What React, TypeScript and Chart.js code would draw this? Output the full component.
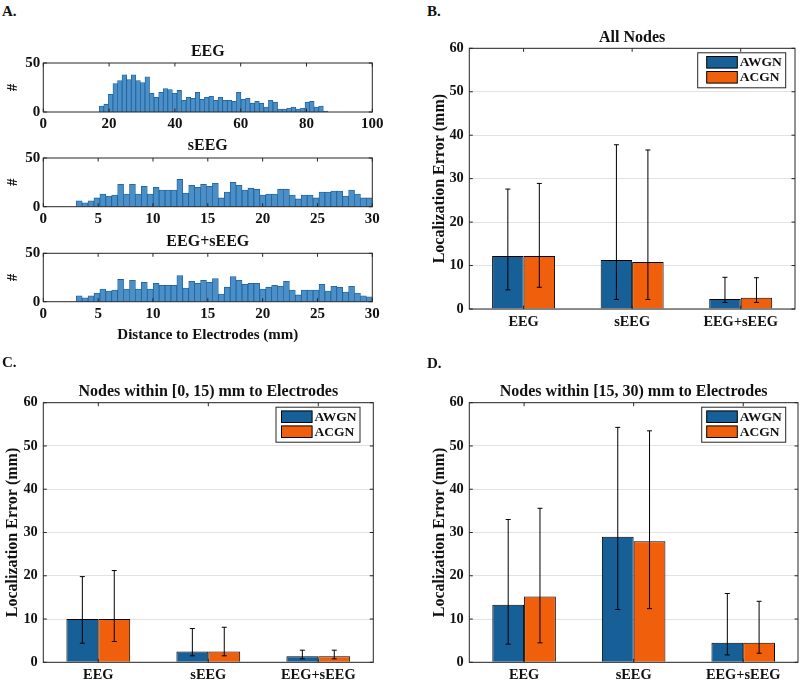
import React, { useEffect, useRef } from 'react';
import { Chart, registerables } from 'chart.js';

Chart.register(...registerables);

const SERIF = "'Liberation Serif', 'Times New Roman', Times, serif";
const INK = '#111111';
const AXIS = '#262626';
const BLUE = '#165f97';
const ORANGE = '#f05f0c';
const HIST_FILL = '#4a8fc7';
const HIST_EDGE = '#1d5f99';

// ---------------- Panel A: histograms ----------------
const eegBinStart = 17.0;
const eegBinWidth = 1.39;
const eegCounts = [6, 8, 18, 29, 32, 38, 33, 38, 32, 30, 36, 19, 15, 20, 24, 23, 19, 22, 12, 15, 14, 20, 13, 15, 16, 12, 15, 12, 12, 11, 20, 13, 14, 9, 11, 9, 5, 12, 10, 3, 3, 4, 5, 3, 4, 10, 11, 5, 6, 1];
const eegXTicks = [0, 20, 40, 60, 80, 100];

const seegBinStart = 3.0;
const seegBinWidth = 0.54;
const seegCounts = [6, 4, 6, 9, 13, 11, 12, 23, 13, 23, 13, 21, 13, 20, 17, 17, 17, 28, 14, 22, 20, 23, 21, 24, 9, 15, 25, 22, 17, 19, 18, 12, 13, 13, 18, 18, 12, 8, 12, 12, 9, 15, 15, 16, 16, 11, 17, 13, 9, 9];
const combinedCounts = [6, 4, 6, 9, 13, 11, 12, 23, 13, 22, 13, 20, 13, 19, 17, 17, 17, 27, 14, 21, 19, 22, 20, 24, 8, 15, 26, 22, 18, 19, 19, 13, 15, 17, 16, 21, 12, 7, 12, 12, 12, 18, 11, 16, 15, 10, 16, 9, 6, 5];
const distXTicks = [0, 5, 10, 15, 20, 25, 30];
const histYTicks = [0, 50];

// ---------------- Panels B-D: bar charts ----------------
const categories = ['EEG', 'sEEG', 'EEG+sEEG'];
const seriesNames = ['AWGN', 'ACGN'];
const barYTicks = [0, 10, 20, 30, 40, 50, 60];

// B. All nodes
const awgnAll = [12.2, 11.3, 2.3];
const awgnAllLow = [4.4, 2.2, 1.5];
const awgnAllHigh = [27.6, 37.8, 7.3];
const acgnAll = [12.2, 10.8, 2.6];
const acgnAllLow = [5.0, 2.2, 1.5];
const acgnAllHigh = [28.9, 36.6, 7.2];

// C. Nodes within [0, 15) mm
const awgnNear = [10.0, 2.5, 1.4];
const awgnNearLow = [4.4, 1.5, 0.8];
const awgnNearHigh = [19.8, 7.8, 2.8];
const acgnNear = [10.0, 2.5, 1.4];
const acgnNearLow = [4.8, 1.5, 0.8];
const acgnNearHigh = [21.2, 8.1, 2.8];

// D. Nodes within [15, 30) mm
const awgnFar = [13.3, 29.0, 4.5];
const awgnFarLow = [4.2, 12.2, 1.7];
const awgnFarHigh = [33.0, 54.3, 15.9];
const acgnFar = [15.2, 28.0, 4.5];
const acgnFarLow = [4.5, 12.4, 2.1];
const acgnFarHigh = [35.6, 53.5, 14.1];

type Rect = { left: number; top: number; width: number; height: number };
type Area = { l: number; t: number; r: number; b: number };

const font = (size: number) => ({ family: SERIF, size, weight: 'bold' as const, lineHeight: 1.2 });

function pads(c: Rect, a: Area, yw: number, xh: number, th: number) {
  return {
    left: a.l - c.left - yw,
    right: c.left + c.width - a.r,
    top: a.t - c.top - th,
    bottom: c.top + c.height - xh - a.b,
  };
}

const matlabBox = {
  id: 'matlabBox',
  afterDraw(chart: any) {
    const { ctx, chartArea: a, scales } = chart;
    const x = scales.x;
    const y = scales.y;
    const L = 3.5;
    ctx.save();
    ctx.strokeStyle = AXIS;
    ctx.lineWidth = 1;
    ctx.beginPath();
    x.ticks.forEach((_t: any, i: number) => {
      const px = x.getPixelForTick(i);
      ctx.moveTo(px, a.bottom);
      ctx.lineTo(px, a.bottom - L);
      ctx.moveTo(px, a.top);
      ctx.lineTo(px, a.top + L);
    });
    y.ticks.forEach((_t: any, i: number) => {
      const py = y.getPixelForTick(i);
      ctx.moveTo(a.left, py);
      ctx.lineTo(a.left + L, py);
      ctx.moveTo(a.right, py);
      ctx.lineTo(a.right - L, py);
    });
    ctx.stroke();
    ctx.strokeRect(a.left, a.top, a.right - a.left, a.bottom - a.top);
    ctx.restore();
  },
};

const errorBars = {
  id: 'errorBars',
  afterDatasetsDraw(chart: any) {
    const { ctx, scales } = chart;
    const y = scales.y;
    ctx.save();
    ctx.strokeStyle = '#000';
    ctx.lineWidth = 1;
    chart.data.datasets.forEach((ds: any, i: number) => {
      if (!ds.errLow) return;
      const meta = chart.getDatasetMeta(i);
      meta.data.forEach((bar: any, j: number) => {
        const lo = y.getPixelForValue(ds.errLow[j]);
        const hi = y.getPixelForValue(ds.errHigh[j]);
        const cx = bar.x;
        const cap = 2.5;
        ctx.beginPath();
        ctx.moveTo(cx, lo);
        ctx.lineTo(cx, hi);
        ctx.moveTo(cx - cap, lo);
        ctx.lineTo(cx + cap, lo);
        ctx.moveTo(cx - cap, hi);
        ctx.lineTo(cx + cap, hi);
        ctx.stroke();
      });
    });
    ctx.restore();
  },
};

const legendBox = {
  id: 'legendBox',
  afterDraw(chart: any, _args: any, opts: any) {
    if (!opts || !opts.show) return;
    const { ctx, chartArea: a } = chart;
    const x0 = a.right - opts.right - opts.width;
    const y0 = a.top + opts.top;
    ctx.save();
    ctx.fillStyle = '#ffffff';
    ctx.fillRect(x0, y0, opts.width, opts.height);
    ctx.strokeStyle = AXIS;
    ctx.lineWidth = 1;
    ctx.strokeRect(x0, y0, opts.width, opts.height);
    chart.data.datasets.forEach((ds: any, i: number) => {
      const sx = x0 + opts.swatchLeft;
      const sy = y0 + 3.7 + i * 15;
      ctx.fillStyle = ds.backgroundColor;
      ctx.fillRect(sx, sy, 30.6, 11.6);
      ctx.strokeStyle = '#000';
      ctx.strokeRect(sx, sy, 30.6, 11.6);
      ctx.fillStyle = INK;
      ctx.font = `bold 13.5px ${SERIF}`;
      ctx.textBaseline = 'middle';
      ctx.textAlign = 'left';
      ctx.fillText(ds.label, sx + 33, sy + 6.3);
    });
    ctx.restore();
  },
};

type HistSpec = {
  title: string;
  counts: number[];
  binStart: number;
  binWidth: number;
  xTicks: number[];
  xTitle?: string;
  canvas: Rect;
  area: Area;
  titleCenter: number;
  xTitleCenter?: number;
};

function histConfig(p: HistSpec) {
  const lh = 16 * 1.2;
  const pb = p.area.t - p.titleCenter - lh / 2;
  const th = lh + pb;
  const yw = 39;
  const xh = p.xTitleCenter ? p.xTitleCenter + 9 - p.area.b : 22;
  const padding = pads(p.canvas, p.area, yw, xh, th);
  return {
    type: 'bar',
    data: {
      datasets: [
        {
          label: p.title,
          data: p.counts.map((c, i) => ({ x: p.binStart + (i + 0.5) * p.binWidth, y: c })),
          backgroundColor: HIST_FILL,
          borderColor: HIST_EDGE,
          borderWidth: 0.8,
          barPercentage: 1,
          categoryPercentage: 1,
        },
      ],
    },
    options: {
      animation: false,
      responsive: true,
      maintainAspectRatio: false,
      layout: { padding },
      events: [],
      plugins: {
        legend: { display: false },
        tooltip: { enabled: false },
        title: {
          display: true,
          fullSize: false,
          text: p.title,
          color: INK,
          font: font(16),
          padding: { top: 0, bottom: pb },
        },
      },
      scales: {
        x: {
          type: 'linear',
          min: p.xTicks[0],
          max: p.xTicks[p.xTicks.length - 1],
          offset: false,
          grid: { display: false, drawTicks: false },
          border: { display: false },
          afterBuildTicks: (s: any) => {
            s.ticks = p.xTicks.map((v) => ({ value: v }));
          },
          ticks: { color: INK, font: font(15), padding: 3, maxRotation: 0, autoSkip: false },
          title: p.xTitle
            ? { display: true, text: p.xTitle, color: INK, font: font(15), padding: 0 }
            : { display: false },
          afterFit: (s: any) => {
            s.height = xh;
          },
        },
        y: {
          min: 0,
          max: 50,
          grid: { display: false, drawTicks: false },
          border: { display: false },
          afterBuildTicks: (s: any) => {
            s.ticks = histYTicks.map((v) => ({ value: v }));
          },
          ticks: { color: INK, font: font(15), padding: 3 },
          title: { display: true, text: '#', color: INK, font: font(15), padding: 0 },
          afterFit: (s: any) => {
            s.width = yw;
          },
        },
      },
    },
    plugins: [matlabBox],
  };
}

type BarSpec = {
  title: string;
  awgn: number[];
  awgnLow: number[];
  awgnHigh: number[];
  acgn: number[];
  acgnLow: number[];
  acgnHigh: number[];
  canvas: Rect;
  area: Area;
  titleCenter: number;
  yTitleCenter: number;
  legend: { right: number; width: number; swatchLeft: number };
};

function barConfig(p: BarSpec) {
  const lh = 16 * 1.2;
  const pb = p.area.t - p.titleCenter - lh / 2;
  const th = lh + pb;
  const yw = p.area.l - p.yTitleCenter + lh / 2;
  const xh = 20;
  const padding = pads(p.canvas, p.area, yw, xh, th);
  return {
    type: 'bar',
    data: {
      labels: categories,
      datasets: [
        {
          label: seriesNames[0],
          data: p.awgn,
          errLow: p.awgnLow,
          errHigh: p.awgnHigh,
          backgroundColor: BLUE,
          borderColor: '#000',
          borderWidth: 1,
          categoryPercentage: 0.58,
          barPercentage: 1,
        },
        {
          label: seriesNames[1],
          data: p.acgn,
          errLow: p.acgnLow,
          errHigh: p.acgnHigh,
          backgroundColor: ORANGE,
          borderColor: '#000',
          borderWidth: 1,
          categoryPercentage: 0.58,
          barPercentage: 1,
        },
      ],
    },
    options: {
      animation: false,
      responsive: true,
      maintainAspectRatio: false,
      layout: { padding },
      events: [],
      plugins: {
        legend: { display: false },
        tooltip: { enabled: false },
        title: {
          display: true,
          fullSize: false,
          text: p.title,
          color: INK,
          font: font(16),
          padding: { top: 0, bottom: pb },
        },
        legendBox: { show: true, top: 4.5, height: 35, ...p.legend },
      },
      scales: {
        x: {
          grid: { display: false, drawTicks: false },
          border: { display: false },
          ticks: { color: INK, font: font(14.4), padding: 4.5 },
          afterFit: (s: any) => {
            s.height = xh;
          },
        },
        y: {
          min: 0,
          max: 60,
          grid: { color: '#e2e2e2', drawTicks: false, lineWidth: 1 },
          border: { display: false },
          afterBuildTicks: (s: any) => {
            s.ticks = barYTicks.map((v) => ({ value: v }));
          },
          ticks: { color: INK, font: font(14.4), padding: 5.5 },
          title: { display: true, text: 'Localization Error (mm)', color: INK, font: font(16), padding: 0 },
          afterFit: (s: any) => {
            s.width = yw;
          },
        },
      },
    },
    plugins: [errorBars, matlabBox, legendBox],
  };
}

function ChartBox({ rect, config }: { rect: Rect; config: () => any }) {
  const ref = useRef<HTMLCanvasElement>(null);
  useEffect(() => {
    const chart = new Chart(ref.current as HTMLCanvasElement, config());
    return () => chart.destroy();
  }, []);
  return (
    <div style={{ position: 'absolute', left: rect.left, top: rect.top, width: rect.width, height: rect.height }}>
      <canvas ref={ref} />
    </div>
  );
}

const eegCanvas: Rect = { left: 0, top: 30, width: 400, height: 112 };
const seegCanvas: Rect = { left: 0, top: 125, width: 400, height: 112 };
const combCanvas: Rect = { left: 0, top: 220, width: 400, height: 130 };
const bCanvas: Rect = { left: 400, top: 20, width: 400, height: 320 };
const cCanvas: Rect = { left: 0, top: 370, width: 400, height: 311 };
const dCanvas: Rect = { left: 400, top: 370, width: 400, height: 311 };

function PanelLabel({ text, left, top }: { text: string; left: number; top: number }) {
  return (
    <div
      style={{
        position: 'absolute',
        left,
        top,
        fontFamily: SERIF,
        fontWeight: 'bold',
        fontSize: 15,
        lineHeight: '15px',
        color: INK,
      }}
    >
      {text}
    </div>
  );
}

export default function App() {
  return (
    <div style={{ position: 'absolute', left: 0, top: 0, width: 800, height: 681, background: '#fff', overflow: 'hidden' }}>
      <ChartBox
        rect={eegCanvas}
        config={() =>
          histConfig({
            title: 'EEG',
            counts: eegCounts,
            binStart: eegBinStart,
            binWidth: eegBinWidth,
            xTicks: eegXTicks,
            canvas: eegCanvas,
            area: { l: 43.3, r: 372.3, t: 63, b: 112 },
            titleCenter: 51.7,
          })
        }
      />
      <ChartBox
        rect={seegCanvas}
        config={() =>
          histConfig({
            title: 'sEEG',
            counts: seegCounts,
            binStart: seegBinStart,
            binWidth: seegBinWidth,
            xTicks: distXTicks,
            canvas: seegCanvas,
            area: { l: 43.3, r: 372.3, t: 158, b: 206.7 },
            titleCenter: 146,
          })
        }
      />
      <ChartBox
        rect={combCanvas}
        config={() =>
          histConfig({
            title: 'EEG+sEEG',
            counts: combinedCounts,
            binStart: seegBinStart,
            binWidth: seegBinWidth,
            xTicks: distXTicks,
            xTitle: 'Distance to Electrodes (mm)',
            canvas: combCanvas,
            area: { l: 43.3, r: 372.3, t: 253.3, b: 301.7 },
            titleCenter: 241.7,
            xTitleCenter: 335,
          })
        }
      />
      <ChartBox
        rect={bCanvas}
        config={() =>
          barConfig({
            title: 'All Nodes',
            awgn: awgnAll,
            awgnLow: awgnAllLow,
            awgnHigh: awgnAllHigh,
            acgn: acgnAll,
            acgnLow: acgnAllLow,
            acgnHigh: acgnAllHigh,
            canvas: bCanvas,
            area: { l: 469.3, r: 795, t: 48.3, b: 309 },
            titleCenter: 37.5,
            yTitleCenter: 440,
            legend: { right: 9.3, width: 88, swatchLeft: 9 },
          })
        }
      />
      <ChartBox
        rect={cCanvas}
        config={() =>
          barConfig({
            title: 'Nodes within [0, 15) mm to Electrodes',
            awgn: awgnNear,
            awgnLow: awgnNearLow,
            awgnHigh: awgnNearHigh,
            acgn: acgnNear,
            acgnLow: acgnNearLow,
            acgnHigh: acgnNearHigh,
            canvas: cCanvas,
            area: { l: 43.3, r: 373.3, t: 402.7, b: 662.3 },
            titleCenter: 391.5,
            yTitleCenter: 12.7,
            legend: { right: 13.3, width: 84, swatchLeft: 5.5 },
          })
        }
      />
      <ChartBox
        rect={dCanvas}
        config={() =>
          barConfig({
            title: 'Nodes within [15, 30) mm to Electrodes',
            awgn: awgnFar,
            awgnLow: awgnFarLow,
            awgnHigh: awgnFarHigh,
            acgn: acgnFar,
            acgnLow: acgnFarLow,
            acgnHigh: acgnFarHigh,
            canvas: dCanvas,
            area: { l: 469.3, r: 798, t: 402.7, b: 662.3 },
            titleCenter: 391.5,
            yTitleCenter: 440,
            legend: { right: 12.3, width: 84, swatchLeft: 5 },
          })
        }
      />
      <PanelLabel text="A." left={2} top={3.5} />
      <PanelLabel text="B." left={427} top={3.5} />
      <PanelLabel text="C." left={2} top={354.5} />
      <PanelLabel text="D." left={427} top={355.5} />
    </div>
  );
}
